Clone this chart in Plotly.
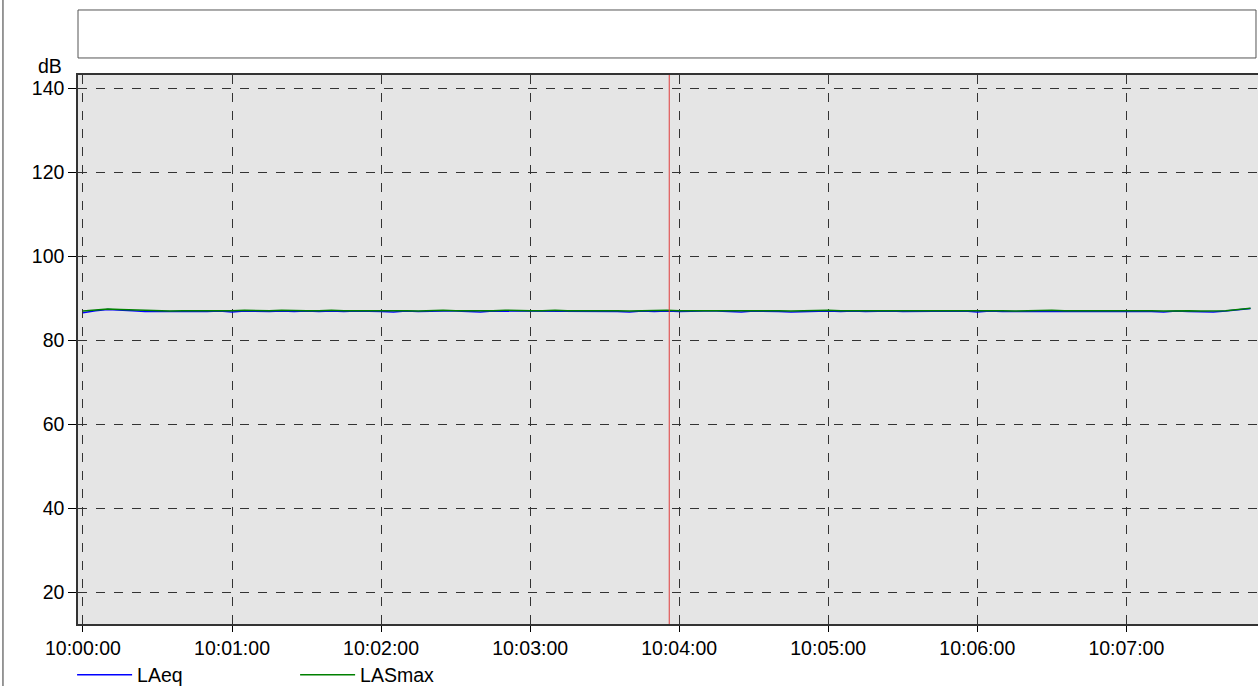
import plotly.graph_objects as go
import pandas as pd

start = "2024-01-01 10:00:00"
step_s = 5

laeq = [86.5, 87.0, 87.3, 87.2, 87.0, 86.8, 86.8, 86.7, 86.8, 86.8,
        86.8, 86.9, 86.7, 86.9, 86.8, 86.8, 86.9, 86.8, 86.9, 86.8,
        86.9, 86.8, 86.9, 86.9, 86.8, 86.7, 86.9, 86.8, 86.9, 86.9,
        86.9, 86.8, 86.7, 86.9, 86.9, 86.8, 86.9, 86.8, 86.9, 86.8,
        86.8, 86.9, 86.9, 86.8, 86.7, 86.9, 86.8, 86.9, 86.8, 86.9,
        86.9, 86.9, 86.8, 86.7, 86.9, 86.9, 86.8, 86.7, 86.8, 86.9,
        86.9, 86.8, 86.9, 86.8, 86.9, 86.9, 86.8, 86.8, 86.9, 86.8,
        86.8, 86.9, 86.7, 86.9, 86.8, 86.8, 86.9, 86.8, 86.9, 86.8,
        86.9, 86.8, 86.9, 86.8, 86.9, 86.8, 86.8, 86.7, 86.9, 86.8,
        86.7, 86.7, 86.9, 87.2, 87.5]

lasmax = [86.9, 87.2, 87.4, 87.3, 87.2, 87.0, 87.0, 86.9, 87.0, 87.0,
          86.9, 87.0, 87.0, 87.1, 87.0, 87.0, 87.1, 87.0, 87.0, 87.0,
          87.1, 87.0, 87.0, 87.1, 87.0, 87.0, 87.0, 86.9, 87.0, 87.1,
          87.0, 87.0, 86.9, 87.0, 87.1, 87.0, 87.0, 87.0, 87.1, 87.0,
          87.0, 87.0, 87.1, 87.0, 86.9, 87.0, 87.0, 87.1, 87.0, 87.0,
          87.0, 87.1, 87.0, 87.0, 87.0, 87.1, 87.0, 86.9, 87.0, 87.0,
          87.1, 87.0, 87.0, 87.0, 87.1, 87.0, 87.0, 87.0, 87.1, 87.0,
          87.0, 87.1, 87.0, 87.0, 87.0, 86.9, 87.0, 87.0, 87.1, 87.0,
          87.0, 87.0, 87.1, 87.0, 87.0, 87.0, 87.0, 86.9, 87.0, 87.0,
          86.9, 86.9, 87.0, 87.3, 87.6]

tick_vals = ["2024-01-01 10:0%d:00" % i for i in range(8)]
tick_text = ["10:0%d:00" % i for i in range(8)]
y_ticks = [20, 40, 60, 80, 100, 120, 140]
cursor_time = "2024-01-01 10:03:56"

times = pd.date_range(start, periods=len(laeq), freq=f"{step_s}s")

font_family = "Liberation Sans, Arial, sans-serif"
fs = 19.5

fig = go.Figure()
fig.add_trace(go.Scatter(x=times, y=laeq, mode="lines", name="LAeq",
                         line=dict(color="#0000ff", width=1.5)))
fig.add_trace(go.Scatter(x=times, y=lasmax, mode="lines", name="LASmax",
                         line=dict(color="#008000", width=1.5)))

fig.add_shape(type="line", xref="x", yref="paper", x0=cursor_time, x1=cursor_time,
              y0=0, y1=1, line=dict(color="#e03c3c", width=1))
# top empty box
fig.add_shape(type="rect", xref="paper", yref="paper", x0=0, x1=0.9983,
              y0=1.031, y1=1.1184, line=dict(color="#555555", width=1),
              fillcolor="white", layer="above")
# left page border
fig.add_shape(type="line", xref="paper", yref="paper", x0=-0.0636, x1=-0.0636,
              y0=-0.12, y1=1.14, line=dict(color="#777777", width=1.5))

fig.add_annotation(text="dB", xref="paper", yref="paper", x=-0.0237, y=1.0164,
                   xanchor="center", yanchor="middle", showarrow=False,
                   font=dict(size=fs, color="black", family=font_family))

fig.update_layout(
    width=1258, height=686,
    margin=dict(l=78, r=0, t=75, b=62, autoexpand=False),
    paper_bgcolor="white", plot_bgcolor="#e5e5e5",
    font=dict(family=font_family, size=fs, color="black"),
    showlegend=True,
    legend=dict(orientation="h", x=-0.005, xanchor="left",
                yref="container", y=0.016, yanchor="middle",
                entrywidth=153, entrywidthmode="pixels",
                font=dict(size=fs), bgcolor="rgba(0,0,0,0)", itemwidth=55),
)
fig.update_xaxes(
    range=["2024-01-01 09:59:58", "2024-01-01 10:07:53"],
    tickmode="array", tickvals=tick_vals, ticktext=tick_text,
    showgrid=True, gridcolor="#333333", griddash="dash", gridwidth=1,
    ticks="outside", ticklen=6, tickcolor="black",
    showline=True, linecolor="#333333", linewidth=1.5, mirror=True,
    zeroline=False, tickfont=dict(size=fs),
)
fig.update_yaxes(
    range=[12.4, 143.1], tickvals=y_ticks,
    showgrid=True, gridcolor="#333333", griddash="dash", gridwidth=1,
    ticks="outside", ticklen=8, tickcolor="black",
    showline=True, linecolor="#333333", linewidth=1.5, mirror=True,
    zeroline=False, tickfont=dict(size=fs),
)

fig.write_html("out.html", config={"displayModeBar": False},
               post_script="document.body.style.margin='0';")
